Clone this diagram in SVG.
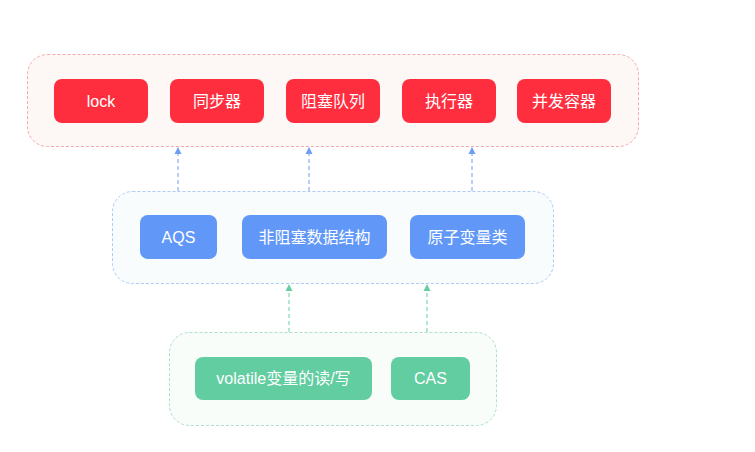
<svg xmlns="http://www.w3.org/2000/svg" width="755" height="452" viewBox="0 0 755 452">
<defs>
<style>
.t{font-family:"Liberation Sans","Noto Sans CJK SC",sans-serif;font-size:16px;fill:#fff;text-anchor:middle;dominant-baseline:central}
.r{fill:#FF2E3F}
.b{fill:#6198F8}
.g{fill:#62CDA1}
.cb{stroke:#6E9EF2;stroke-width:1;stroke-dasharray:4 3;fill:none}
.cg{stroke:#66CFA2;stroke-width:1;stroke-dasharray:4 3;fill:none}
</style>
<marker id="ab" markerWidth="8" markerHeight="8" refX="4" refY="1" markerUnits="userSpaceOnUse" viewBox="0 0 8 8"><path d="M0.5,7 L4,0 L7.5,7 Z" fill="#6E9EF2"/></marker>
<marker id="ag" markerWidth="8" markerHeight="8" refX="4" refY="1" markerUnits="userSpaceOnUse" viewBox="0 0 8 8"><path d="M0.5,7 L4,0 L7.5,7 Z" fill="#66CFA2"/></marker>
</defs>
<rect width="755" height="452" fill="#fff"/>
<g id="layer-top">
<rect x="27.5" y="54.5" width="611" height="92" rx="20" fill="#FDF8F5" stroke="#F4A9A9" stroke-dasharray="3 2"/>
</g>
<g id="layer-mid">
<rect x="112.5" y="191.5" width="441" height="92" rx="20" fill="#F8FCFD" stroke="#AFCBF5" stroke-dasharray="3 2"/>
</g>
<g id="layer-bot">
<rect x="169.5" y="332.5" width="327" height="93" rx="20" fill="#F8FDF9" stroke="#ACE2CA" stroke-dasharray="3 2"/>
</g>
<g id="connectors">
<line class="cb" x1="178" y1="191" x2="178" y2="148" marker-end="url(#ab)"/>
<line class="cb" x1="309" y1="191" x2="309" y2="148" marker-end="url(#ab)"/>
<line class="cb" x1="472" y1="191" x2="472" y2="148" marker-end="url(#ab)"/>
<line class="cg" x1="289" y1="332" x2="289" y2="285" marker-end="url(#ag)"/>
<line class="cg" x1="427" y1="332" x2="427" y2="285" marker-end="url(#ag)"/>
</g>
<g id="lock"><rect class="r" x="54" y="79" width="94" height="44" rx="8"/><text class="t" x="101" y="101">lock</text></g>
<g id="sync"><rect class="r" x="170" y="79" width="94" height="44" rx="8"/><text class="t" x="217" y="101">同步器</text></g>
<g id="bq"><rect class="r" x="286" y="79" width="94" height="44" rx="8"/><text class="t" x="333" y="101">阻塞队列</text></g>
<g id="exec"><rect class="r" x="402" y="79" width="94" height="44" rx="8"/><text class="t" x="449" y="101">执行器</text></g>
<g id="cc"><rect class="r" x="517" y="79" width="94" height="44" rx="8"/><text class="t" x="564" y="101">并发容器</text></g>
<g id="aqs"><rect class="b" x="140" y="215" width="77" height="44" rx="8"/><text class="t" x="178.5" y="237">AQS</text></g>
<g id="nbds"><rect class="b" x="242" y="215" width="145" height="44" rx="8"/><text class="t" x="314.5" y="237">非阻塞数据结构</text></g>
<g id="atomic"><rect class="b" x="410" y="215" width="115" height="44" rx="8"/><text class="t" x="467.5" y="237">原子变量类</text></g>
<g id="volatile"><rect class="g" x="195" y="357" width="177" height="43" rx="8"/><text class="t" x="283.5" y="378.5">volatile变量的读/写</text></g>
<g id="cas"><rect class="g" x="391" y="357" width="79" height="43" rx="8"/><text class="t" x="430.5" y="378.5">CAS</text></g>
</svg>
